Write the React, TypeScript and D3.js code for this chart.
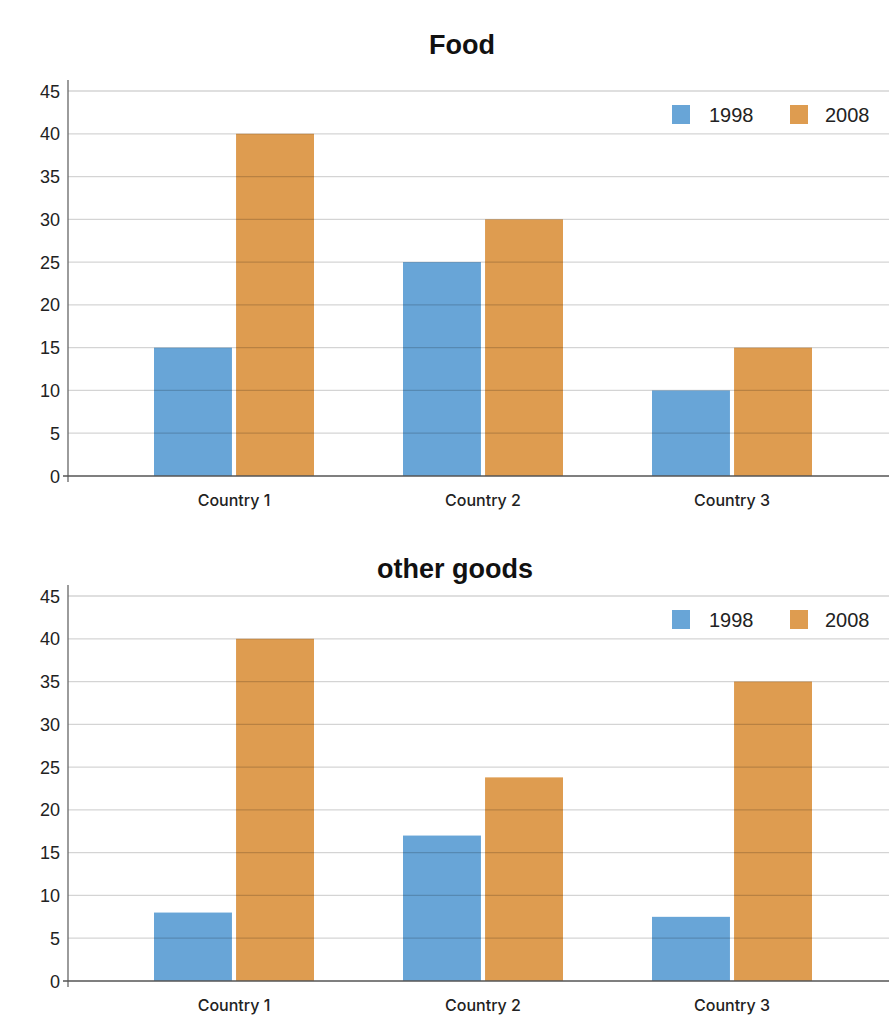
import React from "react";
import * as d3 from "d3";

const countries = ["Country 1", "Country 2", "Country 3"];
const seriesNames = ["1998", "2008"];
const foodValues1998 = [15, 25, 10];
const foodValues2008 = [40, 30, 15];
const otherValues1998 = [8, 17, 7.5];
const otherValues2008 = [40, 23.8, 35];
const yTicks = [0, 5, 10, 15, 20, 25, 30, 35, 40, 45];
const colors = ["#68A5D7", "#DE9C50"];

const W = 889;
const H = 1024;

function Panel({ title, v1, v2, top, titleY, titleX }: { title: string; v1: number[]; v2: number[]; top: number; titleY: number; titleX: number }) {
  const y0 = top + 476;
  const y45 = top + 91;
  const y = d3.scaleLinear().domain([0, 45]).range([y0, y45]);
  const x = d3.scaleBand().domain(countries).range([109.5, 856.5]).paddingInner(0).paddingOuter(0);
  const groupW = 160;
  const inner = d3.scaleBand().domain(seriesNames).range([0, groupW]).paddingInner(0.05);
  const data = [v1, v2];
  return (
    <g>
      <text x={titleX} y={titleY} textAnchor="middle" fontFamily="Liberation Sans, Arial, sans-serif" fontWeight="bold" fontSize={27} fill="#111">
        {title}
      </text>
      {countries.map((c, i) =>
        seriesNames.map((s, j) => {
          const bx = (x(c) as number) + x.bandwidth() / 2 - groupW / 2 + (inner(s) as number);
          return (
            <rect key={c + s} x={bx} y={y(data[j][i])} width={inner.bandwidth()} height={y0 - y(data[j][i])} fill={colors[j]} />
          );
        })
      )}
      {yTicks.filter((t) => t > 0).map((t) => (
        <line key={t} x1={68} x2={W} y1={y(t)} y2={y(t)} stroke="rgba(0,0,0,0.17)" strokeWidth={1.3} />
      ))}
      <line x1={68} x2={68} y1={top + 80} y2={y0 + 6} stroke="#666" strokeWidth={1.3} />
      <line x1={63} x2={W} y1={y0} y2={y0} stroke="#555" strokeWidth={1.5} />
      {yTicks.map((t) => (
        <text key={t} x={60} y={y(t) + 6.5} textAnchor="end" fontFamily="Liberation Sans, Arial, sans-serif" fontSize={18} fill="#222">
          {t}
        </text>
      ))}
      {countries.map((c) => (
        <text key={c} x={(x(c) as number) + x.bandwidth() / 2} y={y0 + 30} textAnchor="middle" fontFamily="Inter, sans-serif" fontWeight={500} fontSize={16} fill="#222">
          {c}
        </text>
      ))}
      {seriesNames.map((s, j) => (
        <g key={s}>
          <rect x={672 + j * 118} y={top + 105} width={18} height={19} fill={colors[j]} />
          <text x={709 + j * 116} y={top + 121.5} fontFamily="Liberation Sans, Arial, sans-serif" fontSize={20} fill="#222">
            {s}
          </text>
        </g>
      ))}
    </g>
  );
}

export default function App() {
  return (
    <svg width={W} height={H} style={{ position: "absolute", left: 0, top: 0, background: "#fff" }}>
      <rect width={W} height={H} fill="#fff" />
      <Panel title="Food" v1={foodValues1998} v2={foodValues2008} top={0} titleY={54} titleX={462} />
      <Panel title="other goods" v1={otherValues1998} v2={otherValues2008} top={505} titleY={578} titleX={455} />
    </svg>
  );
}
